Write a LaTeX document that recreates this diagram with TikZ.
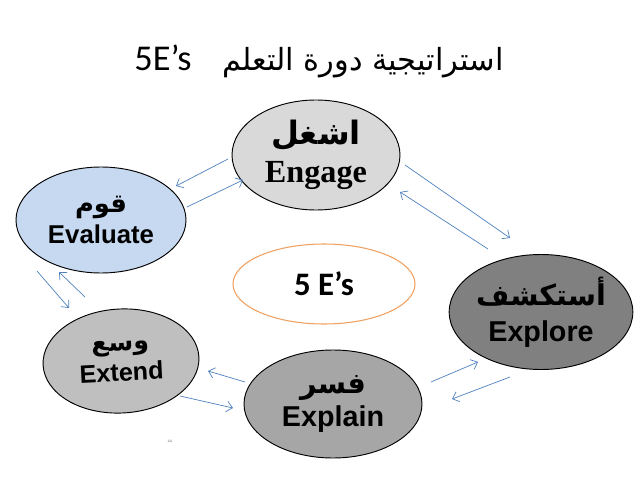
\documentclass[tikz,border=0pt]{standalone}
\usepackage{fontspec}
\setmainfont{Liberation Sans}
\newfontfamily\arabicfont[Script=Arabic]{DejaVu Sans}
\newfontfamily\calibri{Carlito}
\newfontfamily\timesfont{Liberation Serif}
\TeXXeTstate=1
\usetikzlibrary{arrows.meta, calc, shapes.geometric}
\definecolor{arrowblue}{HTML}{4F81BD}
\definecolor{evalblue}{HTML}{C6D9F1}
\definecolor{ringorange}{HTML}{F0A060}

\begin{document}
\begin{tikzpicture}[x=0.03cm, y=-0.03cm, >={Straight Barb[length=5pt,width=9pt]},
  phase/.style={draw, ellipse, line width=0.8pt, inner sep=0pt, align=center},
  flow/.style={->, arrowblue, line width=0.6pt}]
\useasboundingbox (0,0) rectangle (638,479);
\node (title) at (319,61) {\fontsize{31}{36}\selectfont\calibri 5E’s\hspace{26pt}\fontsize{26}{36}\selectfont\arabicfont\beginR استراتيجية دورة التعلم\endR};
\node[phase, fill=black!15, minimum width=5.04cm, minimum height=3.3cm, font=\fontsize{27.5}{32}\selectfont\bfseries] (eng) at (316,155) {\arabicfont\beginR اشغل\endR\\ \timesfont Engage};
\node[phase, fill=evalblue, minimum width=5.1cm, minimum height=3.18cm, font=\fontsize{22}{26}\selectfont\bfseries] (eva) at (101,220) {\arabicfont\beginR قوم\endR\\ Evaluate};
\node[phase, fill=black!50, minimum width=5.04cm, minimum height=3.45cm, font=\fontsize{24.5}{31}\selectfont\bfseries] (exp) at (541,312) {\arabicfont\beginR أستكشف\endR\\ Explore};
\node[phase, fill=black!25, minimum width=4.68cm, minimum height=3.12cm, rotate=3, font=\fontsize{21.5}{26}\selectfont\bfseries] (ext) at (121,361) {\arabicfont\beginR وسع\endR\\ Extend};
\node[phase, fill=black!35, minimum width=5.34cm, minimum height=3.24cm, font=\fontsize{24.5}{28}\selectfont\bfseries] (expl) at (333,404) {\arabicfont\beginR فسر\endR\\ Explain};
\node[draw=ringorange, ellipse, line width=0.9pt, fill=white, minimum width=5.46cm, minimum height=2.4cm, font=\fontsize{28}{32}\selectfont\calibri\bfseries] (core) at (324,284) {5 E’s};
\node[black!50, font=\fontsize{4}{4}\selectfont\arabicfont] (mark) at (170,441) {\beginR ةة\endR};
\draw[flow] ($(eng)+(-88,4)$) -- ($(eva)+(75,-34)$);
\draw[flow] ($(eva)+(86,-13)$) -- ($(eng)+(-73,25)$);
\draw[flow] ($(eng)+(89,10)$) -- ($(exp)+(-31,-74)$);
\draw[flow] ($(exp)+(-53,-63)$) -- ($(eng)+(84,37)$);
\draw[flow] ($(expl)+(98,-22)$) -- ($(exp)+(-63,50)$);
\draw[flow] ($(exp)+(-31,65)$) -- ($(expl)+(119,-5)$);
\draw[flow] ($(expl)+(-88,-22)$) -- ($(ext)+(87,10)$);
\draw[flow] ($(ext)+(59,35)$) -- ($(expl)+(-100,4)$);
\draw[flow] ($(eva)+(-64,51)$) -- ($(ext)+(-52,-53)$);
\draw[flow] ($(ext)+(-36,-64)$) -- ($(eva)+(-42,52)$);
\end{tikzpicture}
\end{document}
